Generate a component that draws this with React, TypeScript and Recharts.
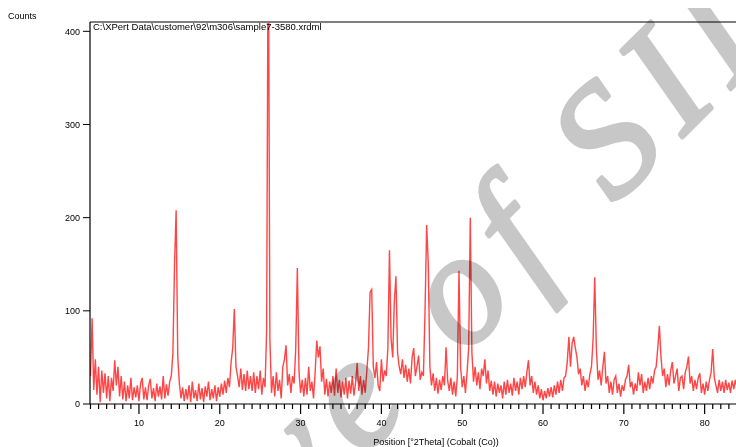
import { Line, LineChart, ReferenceLine, XAxis, YAxis } from 'recharts'

// counts, one value every 0.2 degrees 2Theta, starting at 4.0
const counts04 = [
  30, 92, 15, 48, 10, 40, 2, 36, 12, 33, 6, 30, 3, 28, 14, 47, 20, 40, 8, 30,
  5, 24, 3, 20, 6, 28, 4, 18, 7, 20, 3, 22, 28, 5, 18, 4, 20, 27, 6, 17,
  3, 22, 8, 19, 5, 30, 6, 21, 9, 24,
]
const counts14 = [
  30, 55, 150, 208, 50, 22, 6, 18, 3, 16, 5, 20, 2, 24, 6, 15, 3, 22, 5, 17,
  2, 19, 8, 24, 4, 16, 6, 20, 3, 18, 8, 22, 10, 25, 12, 28, 18, 45, 60, 102,
  40, 30, 18, 38, 15, 32, 14, 36, 16, 30,
]
const counts24 = [
  14, 34, 12, 30, 16, 36, 10, 28, 18, 80, 540, 70, 12, 30, 8, 34, 14, 26, 6, 40,
  48, 63, 20, 32, 12, 30, 22, 60, 146, 35, 12, 26, 8, 28, 10, 40, 14, 24, 6, 34,
  68, 50, 62, 24, 38, 10, 27, 8, 24, 12,
]
const counts34 = [
  30, 9, 38, 12, 26, 7, 24, 10, 28, 6, 25, 11, 30, 9, 22, 44, 14, 30, 10, 26,
  12, 36, 60, 120, 123, 40, 28, 45, 20, 14, 48, 24, 36, 30, 60, 165, 70, 50, 110, 137,
  55, 40, 32, 48, 28, 42, 24, 38, 22, 50,
]
const counts44 = [
  60, 30, 40, 52, 26, 34, 30, 100, 192, 150, 40, 20, 33, 14, 28, 11, 26, 15, 30, 20,
  61, 25, 14, 28, 10, 24, 8, 30, 143, 40, 18, 30, 12, 34, 60, 200, 55, 24, 40, 20,
  34, 16, 38, 30, 48, 22, 36, 14, 25, 10,
]
const counts54 = [
  24, 8, 22, 12, 20, 6, 24, 10, 26, 12, 22, 9, 28, 14, 24, 10, 28, 16, 30, 18,
  34, 47, 20, 30, 12, 24, 10, 20, 6, 16, 4, 14, 6, 17, 8, 18, 7, 20, 10, 24,
  12, 26, 14, 28, 30, 45, 72, 40, 65, 72,
]
const counts64 = [
  60, 50, 32, 38, 20, 30, 14, 26, 18, 32, 40, 70, 136, 60, 26, 36, 20, 40, 56, 22,
  30, 12, 24, 10, 26, 30, 12, 22, 8, 20, 14, 26, 30, 42, 18, 24, 10, 22, 14, 34,
  20, 32, 12, 24, 14, 28, 16, 30, 22, 36,
]
const counts74 = [
  40, 60, 84, 50, 30, 38, 18, 32, 20, 36, 45, 22, 30, 38, 14, 28, 30, 16, 34, 40,
  51, 22, 30, 14, 26, 16, 28, 33, 12, 22, 10, 24, 14, 26, 34, 59, 28, 20, 12, 26,
  14, 24, 12, 26, 15, 23, 12, 25, 16, 26, 18,
]

const startAngle = 4
const stepAngle = 0.2
const xTicks = [10, 20, 30, 40, 50, 60, 70, 80]
const minorTicks = Array.from({ length: 81 }, (_, i) => i + 4)
const yTicks = [0, 100, 200, 300, 400]

const allCounts = [...counts04, ...counts14, ...counts24, ...counts34, ...counts44, ...counts54, ...counts64, ...counts74]
const scan = allCounts.map((c, i) => ({ angle: +(startAngle + i * stepAngle).toFixed(1), counts: c }))

const font = '"Liberation Sans", Arial, sans-serif'

function PositionTick({ x, y, payload }: any) {
  const major = xTicks.includes(payload.value)
  return (
    <g>
      <line x1={x} x2={x} y1={y} y2={y + (major ? 10 : 5)} stroke="#000" strokeWidth={1.2} />
      {major && (
        <text x={x} y={y + 22} textAnchor="middle" fontSize={9} fontFamily={font} fill="#000">
          {payload.value}
        </text>
      )}
    </g>
  )
}

export default function App() {
  return (
    <div style={{ position: 'fixed', left: 8, top: 8, width: 728, height: 439, overflow: 'hidden' }}>
      <LineChart width={745} height={439} data={scan} margin={{ top: 14, right: 12, left: 0, bottom: 0 }}>
        <XAxis
          type="number"
          dataKey="angle"
          domain={[3.94, 84.5]}
          allowDataOverflow
          ticks={minorTicks}
          interval={0}
          tickSize={0}
          tickMargin={0}
          tickLine={false}
          tick={<PositionTick />}
          height={43}
          axisLine={{ stroke: '#000', strokeWidth: 1.2 }}
        />
        <YAxis
          type="number"
          domain={[0, 410]}
          allowDataOverflow
          ticks={yTicks}
          width={82}
          tickSize={7}
          tickMargin={3}
          tick={{ fontSize: 9, fill: '#000', fontFamily: font }}
          tickLine={{ stroke: '#000' }}
          axisLine={{ stroke: '#000', strokeWidth: 1.2 }}
        />
        <ReferenceLine y={410} stroke="#000" strokeWidth={1.2} />
        <Line
          type="linear"
          dataKey="counts"
          stroke="#ff4545"
          strokeWidth={1.4}
          dot={false}
          isAnimationActive={false}
        />
      </LineChart>
      <svg width={728} height={439} style={{ position: 'absolute', left: 0, top: 0, pointerEvents: 'none' }}>
        <text x={0} y={11} fontSize={9} fontFamily={font} fill="#000">Counts</text>
        <text x={85} y={22} fontSize={9.5} fontFamily={font} fill="#000">
          C:\XPert Data\customer\92\m306\sample7-3580.xrdml
        </text>
        <text x={428} y={437} fontSize={9} fontFamily={font} fill="#000" textAnchor="middle">
          Position [°2Theta] (Cobalt (Co))
        </text>
        <g opacity={0.22}>
          <text
            transform="translate(-14,818) rotate(-45)"
            fontFamily='"Liberation Serif", "Times New Roman", serif'
            fontStyle="italic"
            fontSize={160}
            letterSpacing={16.5}
            fill="#000"
            stroke="#000"
            strokeWidth={4}
            strokeLinejoin="round"
          >
            Archive of SID
          </text>
        </g>
      </svg>
    </div>
  )
}
